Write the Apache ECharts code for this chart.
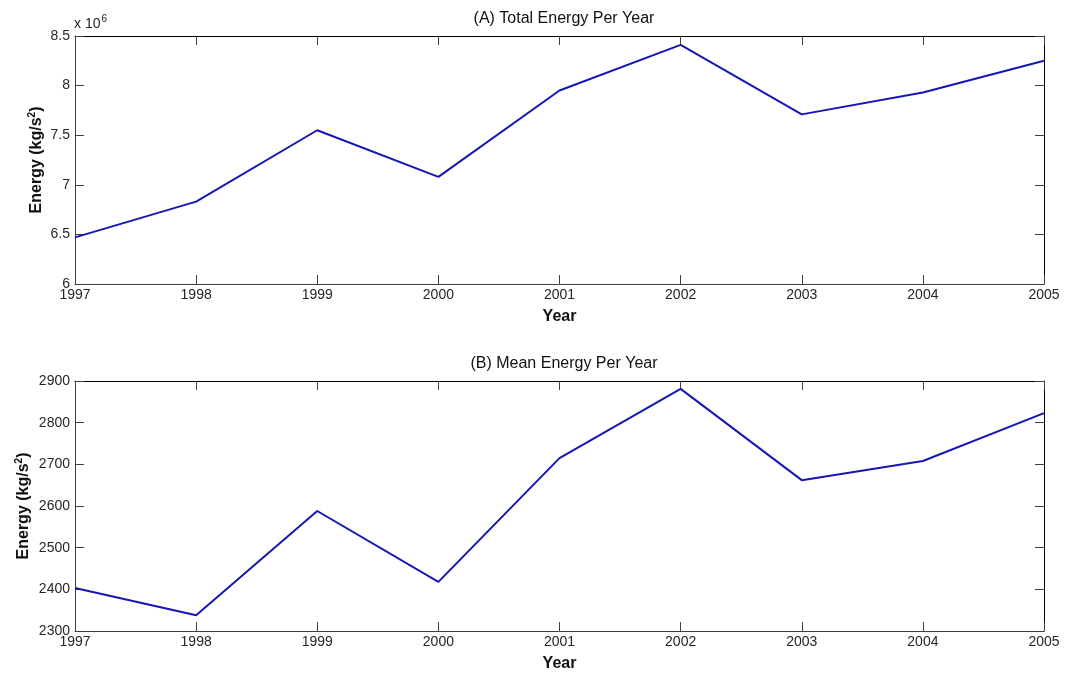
<!DOCTYPE html>
<html>
<head>
<meta charset="utf-8">
<style>
  html, body { margin: 0; padding: 0; background: #fff; }
  #chart { width: 1068px; height: 673px; }
</style>
<script src="https://cdn.jsdelivr.net/npm/echarts@6/dist/echarts.min.js"></script>
</head>
<body>
<div id="chart"></div>
<script>
// Yearly energy totals and means
const years = [1997, 1998, 1999, 2000, 2001, 2002, 2003, 2004, 2005];
const totalEnergy = [6470000, 6830000, 7550000, 7080000, 7950000, 8410000, 7710000, 7930000, 8250000];
const meanEnergy = [2403, 2338, 2588, 2418, 2715, 2881, 2662, 2708, 2823];
const totalTicks = { min: 6, max: 8.5, step: 0.5, scale: 1e6 };
const meanTicks = { min: 2300, max: 2900, step: 100 };

const FONT = 'Liberation Sans, Arial, sans-serif';
const LINE = '#1616b4';
const AXIS = '#404040';

const chart = echarts.init(document.getElementById('chart'));

function pairs(vals) { return years.map((y, i) => [y, vals[i]]); }

const tickLabel = { color: '#262626', fontSize: 14, fontFamily: FONT };

function xAxes(gridIndex) {
  return [
    {
      type: 'value', gridIndex, min: years[0], max: years[years.length - 1], interval: 1,
      position: 'bottom',
      name: 'Year', nameLocation: 'middle', nameGap: 25, nameMoveOverlap: false,
      nameTextStyle: { fontWeight: 'bold', fontSize: 16, fontFamily: FONT, color: '#111' },
      axisLine: { lineStyle: { color: AXIS, width: 1 } },
      axisTick: { inside: true, length: 9, lineStyle: { color: AXIS } },
      axisLabel: Object.assign({ margin: 4, formatter: v => String(v) }, tickLabel),
      splitLine: { show: false }
    },
    {
      type: 'value', gridIndex, min: years[0], max: years[years.length - 1], interval: 1,
      position: 'top',
      axisLine: { lineStyle: { color: '#000', width: 1 } },
      axisTick: { inside: true, length: 9, lineStyle: { color: AXIS } },
      axisLabel: { show: false },
      splitLine: { show: false }
    }
  ];
}

function yAxes(gridIndex, t, fmt, nameGap) {
  return [
    {
      type: 'value', gridIndex, min: t.min * (t.scale || 1), max: t.max * (t.scale || 1),
      interval: t.step * (t.scale || 1), position: 'left',
      name: '{b|Energy (kg/s}{s|2}{b|)}', nameLocation: 'middle', nameGap, nameMoveOverlap: false,
      nameTextStyle: {
        rich: {
          b: { fontWeight: 'bold', fontSize: 16, fontFamily: FONT, color: '#111' },
          s: { fontWeight: 'bold', fontSize: 10, fontFamily: FONT, color: '#111', verticalAlign: 'top', padding: [0, 0, 9, 0] }
        }
      },
      axisLine: { show: true, lineStyle: { color: AXIS, width: 1 } },
      axisTick: { show: true, inside: true, length: 9, lineStyle: { color: AXIS } },
      axisLabel: Object.assign({ margin: 5, formatter: fmt }, tickLabel),
      splitLine: { show: false }
    },
    {
      type: 'value', gridIndex, min: t.min * (t.scale || 1), max: t.max * (t.scale || 1),
      interval: t.step * (t.scale || 1), position: 'right',
      axisLine: { show: true, lineStyle: { color: '#000', width: 1 } },
      axisTick: { show: true, inside: true, length: 9, lineStyle: { color: AXIS } },
      axisLabel: { show: false },
      splitLine: { show: false }
    }
  ];
}

chart.setOption({
  backgroundColor: '#fff',
  animation: false,
  title: [
    { text: '(A) Total Energy Per Year', left: 559, top: 6, textAlign: 'center',
      textStyle: { fontSize: 16, fontWeight: 'normal', fontFamily: FONT, color: '#111' } },
    { text: '(B) Mean Energy Per Year', left: 559, top: 351, textAlign: 'center',
      textStyle: { fontSize: 16, fontWeight: 'normal', fontFamily: FONT, color: '#111' } }
  ],
  grid: [
    { left: 75, top: 36, width: 969, height: 248 },
    { left: 75, top: 381, width: 969, height: 250 }
  ],
  xAxis: [...xAxes(0), ...xAxes(1)],
  yAxis: [
    ...yAxes(0, totalTicks, v => String(+(v / totalTicks.scale).toFixed(1)), 29),
    ...yAxes(1, meanTicks, v => String(v), 42)
  ],
  graphic: [
    {
      type: 'text', left: 74, top: 14,
      style: {
        text: '{a|x 10}{e|6}',
        rich: {
          a: { fontSize: 14, fontFamily: FONT, fill: '#262626' },
          e: { fontSize: 10, fontFamily: FONT, fill: '#262626', verticalAlign: 'top', padding: [0, 0, 10, 1] }
        }
      }
    }
  ],
  series: [
    { type: 'line', xAxisIndex: 0, yAxisIndex: 0, data: pairs(totalEnergy),
      symbol: 'none', lineStyle: { color: LINE, width: 2 } },
    { type: 'line', xAxisIndex: 2, yAxisIndex: 2, data: pairs(meanEnergy),
      symbol: 'none', lineStyle: { color: LINE, width: 2 } }
  ]
});
</script>
</body>
</html>
